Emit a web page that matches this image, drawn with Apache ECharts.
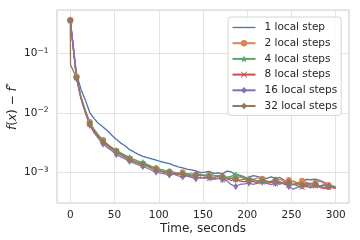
<!DOCTYPE html>
<html><head><meta charset="utf-8">
<script src="https://cdn.jsdelivr.net/npm/echarts@6/dist/echarts.min.js"></script>
<style>html,body{margin:0;padding:0;background:#fff}#c{width:360px;height:240px}</style>
</head><body><div id="c"></div>
<script>
const times = [0, 0.3, 7, 12, 17, 22, 27, 32, 37, 42, 47, 52, 57, 62, 67, 72, 77, 82, 87, 92, 97, 102, 107, 112, 117, 122, 127, 132, 137, 142, 147, 152, 157, 162, 167, 172, 177, 182, 187, 192, 197, 202, 207, 212, 217, 222, 227, 232, 237, 242, 247, 252, 257, 262, 267, 272, 277, 282, 287, 292, 297, 300];
const seriesNames = ['1 local step', '2 local steps', '4 local steps', '8 local steps', '16 local steps', '32 local steps'];
const step1 = [0.36, null, 0.046, 0.025, 0.0165, 0.0101, 0.0080, 0.0066, 0.0058, 0.0050, 0.0042, 0.0036, 0.0031, 0.0028, 0.0024, 0.0022, 0.0020, 0.00185, 0.00176, 0.00168, 0.0016, 0.00152, 0.00146, 0.0014, 0.00131, 0.00124, 0.00119, 0.00113, 0.0011, 0.00106, 0.00099, 0.00101, 0.00104, 0.00096, 0.00098, 0.00094, 0.00105, 0.00102, 0.0009, 0.00086, 0.0008, 0.00083, 0.00088, 0.00085, 0.0008, 0.00079, 0.00084, 0.00079, 0.00082, 0.00073, 0.0007, 0.00071, 0.00066, 0.00068, 0.00076, 0.00075, 0.00077, 0.00073, 0.00068, 0.00063, 0.00058, 0.00055];
const step2 = [0.36, null, 0.041, 0.019, 0.0112, 0.0070, 0.0053, 0.0042, 0.0035, 0.0030, 0.0026, 0.0023, 0.00205, 0.00188, 0.0017, 0.00158, 0.00149, 0.0014, 0.00131, 0.00125, 0.00117, 0.00111, 0.00108, 0.00103, 0.00101, 0.00097, 0.001, 0.00094, 0.00096, 0.00091, 0.00093, 0.00088, 0.0009, 0.00086, 0.00089, 0.00084, 0.00082, 0.00085, 0.0008, 0.00083, 0.00078, 0.00074, 0.00077, 0.00081, 0.00078, 0.00072, 0.00069, 0.00073, 0.00076, 0.00071, 0.00074, 0.0007, 0.00067, 0.00072, 0.00068, 0.00064, 0.00067, 0.00071, 0.00065, 0.00061, 0.00059, 0.00057];
const step4 = [0.36, null, 0.040, 0.0185, 0.0108, 0.0068, 0.0051, 0.0041, 0.0034, 0.0029, 0.0026, 0.00232, 0.00212, 0.00194, 0.00178, 0.00165, 0.00155, 0.00146, 0.00136, 0.00126, 0.00118, 0.00112, 0.00106, 0.00103, 0.00099, 0.00096, 0.00092, 0.00095, 0.0009, 0.00087, 0.00091, 0.00088, 0.00092, 0.0009, 0.00085, 0.00087, 0.00082, 0.00086, 0.00091, 0.0009, 0.00084, 0.00078, 0.00075, 0.00072, 0.00075, 0.00071, 0.00068, 0.0007, 0.00066, 0.00069, 0.00065, 0.00062, 0.00064, 0.00061, 0.00063, 0.00066, 0.00062, 0.00059, 0.00061, 0.00057, 0.00058, 0.00056];
const step8 = [0.36, null, 0.039, 0.0178, 0.0103, 0.0065, 0.0049, 0.0040, 0.0033, 0.0029, 0.0025, 0.00225, 0.002, 0.0018, 0.00165, 0.00153, 0.00143, 0.00133, 0.00126, 0.00117, 0.0011, 0.00104, 0.001, 0.00096, 0.00092, 0.00094, 0.00089, 0.00086, 0.00083, 0.00085, 0.0008, 0.00083, 0.00079, 0.00076, 0.00079, 0.00075, 0.00078, 0.00073, 0.00076, 0.00071, 0.00069, 0.00073, 0.0007, 0.00066, 0.00069, 0.00065, 0.00068, 0.00064, 0.00067, 0.00063, 0.0006, 0.00063, 0.00059, 0.00056, 0.00058, 0.00055, 0.00059, 0.00056, 0.00053, 0.00057, 0.00055, 0.00054];
const step16 = [0.36, null, 0.038, 0.0175, 0.0100, 0.0062, 0.0046, 0.0037, 0.0030, 0.0026, 0.0023, 0.0020, 0.00182, 0.00168, 0.00153, 0.00143, 0.00133, 0.00125, 0.00117, 0.00109, 0.00101, 0.00097, 0.00094, 0.0009, 0.00093, 0.00087, 0.00084, 0.00088, 0.00082, 0.00078, 0.00083, 0.00079, 0.00082, 0.00077, 0.0008, 0.00076, 0.00072, 0.00062, 0.00058, 0.00063, 0.00064, 0.00066, 0.00063, 0.00066, 0.00069, 0.00065, 0.00062, 0.00066, 0.00063, 0.00067, 0.00058, 0.00052, 0.00056, 0.00059, 0.00061, 0.00058, 0.00062, 0.00059, 0.00056, 0.00058, 0.00057, 0.00055];
const step32 = [0.36, 0.064, 0.039, 0.018, 0.0104, 0.0064, 0.0048, 0.0039, 0.0032, 0.0028, 0.00245, 0.0022, 0.00196, 0.00178, 0.00161, 0.00152, 0.00142, 0.00134, 0.00128, 0.00119, 0.00108, 0.00106, 0.00101, 0.00098, 0.00099, 0.00093, 0.00095, 0.00091, 0.00087, 0.00092, 0.00088, 0.0009, 0.00084, 0.00081, 0.00086, 0.00083, 0.00078, 0.0008, 0.00076, 0.00074, 0.00077, 0.00072, 0.00075, 0.0007, 0.00073, 0.00068, 0.00071, 0.00074, 0.00069, 0.00066, 0.00068, 0.00063, 0.00065, 0.00062, 0.00066, 0.00061, 0.00063, 0.00059, 0.00062, 0.00058, 0.00056, 0.00055];
const xTicks = [0, 50, 100, 150, 200, 250, 300];

const allValues = [step1, step2, step4, step8, step16, step32];
const ff = 'DejaVu Sans';
const txt = '#262626';
const colors = ['#4C72B0', '#DD8452', '#55A868', '#C44E52', '#8172B3', '#937860'];
const STAR = 'path://M0,-10L2.94,-4.05L9.51,-3.09L4.76,1.55L5.88,8.09L0,5L-5.88,8.09L-4.76,1.55L-9.51,-3.09L-2.94,-4.05Z';
const XMARK = 'path://M0,1L1,0L5,4L9,0L10,1L6,5L10,9L9,10L5,6L1,10L0,9L4,5Z';
const LINEICON = 'path://M0,0H23V1.3H0Z';
const symbols = ['none', 'circle', STAR, XMARK, 'diamond', 'diamond'];
const sizes = [0, 6, 7, 5.5, [4.5, 7.5], 7];

function isMark(i) { return i === 0 || (i >= 2 && (i - 2) % 3 === 0); }
function build(vals) {
  const out = [];
  vals.forEach((v, i) => {
    if (v === null) return;
    const item = { value: [times[i], v] };
    if (!isMark(i)) item.symbol = 'none';
    out.push(item);
  });
  return out;
}

const series = allValues.map((vals, k) => ({
  name: seriesNames[k],
  type: 'line',
  data: build(vals),
  symbol: symbols[k],
  symbolSize: sizes[k],
  showSymbol: k !== 0,
  showAllSymbol: true,
  connectNulls: true,
  animation: false,
  lineStyle: { color: colors[k], width: 1.3 },
  itemStyle: { color: colors[k], borderWidth: 0 },
  emphasis: { disabled: true }
}));

const legendData = seriesNames.map((n, k) => (k === 0 ? { name: n, icon: LINEICON } : { name: n }));

const chart = echarts.init(document.getElementById('c'), null, { renderer: 'canvas' });
chart.setOption({
  animation: false,
  backgroundColor: '#fff',
  color: colors,
  grid: { left: 57, right: 11, top: 10, bottom: 37, show: true, borderColor: '#d0d0d0', borderWidth: 1.2, backgroundColor: '#fff', containLabel: false, outerBoundsMode: 'none' },
  xAxis: {
    type: 'value', min: -15, max: 315, splitNumber: 6,
    axisLine: { show: false }, axisTick: { show: false },
    axisLabel: {
      fontFamily: ff, fontSize: 10.5, color: txt, margin: 7,
      formatter: v => (xTicks.indexOf(v) >= 0 ? String(v) : '')
    },
    splitLine: { lineStyle: { color: '#e3e3e3', width: 1 } },
    name: 'Time, seconds', nameLocation: 'middle', nameGap: 20, nameMoveOverlap: false,
    nameTextStyle: { fontFamily: ff, fontSize: 12, color: txt }
  },
  yAxis: {
    type: 'log', logBase: 10, min: 3.05e-4, max: 0.535,
    axisLine: { show: false }, axisTick: { show: false },
    minorTick: { show: false }, minorSplitLine: { show: false },
    axisLabel: {
      margin: 8.5,
      formatter: v => {
        const l = Math.log10(v); const e = Math.round(l);
        if (Math.abs(l - e) > 1e-6) return '';
        return '{b|10}{s|' + (e < 0 ? '\u2212' : '') + Math.abs(e) + '}';
      },
      rich: {
        b: { fontFamily: ff, fontSize: 10.5, color: txt },
        s: { fontFamily: ff, fontSize: 7.5, color: txt, verticalAlign: 'top', padding: [0, 0, 5, 0] }
      }
    },
    splitLine: { lineStyle: { color: '#e3e3e3', width: 1 } },
    name: '{i|f}{n|(}{i|x}{n|) \u2212 }{i|f}{u|*}', nameLocation: 'middle', nameGap: 37, nameMoveOverlap: false,
    nameTextStyle: {
      fontFamily: ff, fontSize: 12, color: txt,
      rich: {
        i: { fontFamily: ff, fontSize: 12, fontStyle: 'italic', color: txt },
        n: { fontFamily: ff, fontSize: 12, color: txt },
        u: { fontFamily: ff, fontSize: 8.5, fontStyle: 'italic', color: txt, verticalAlign: 'top', padding: [0, 0, 6, 0] }
      }
    }
  },
  legend: {
    orient: 'vertical', left: 228, top: 17,
    itemWidth: 23, itemHeight: 8, itemGap: 4.7,
    padding: [5, 4, 4, 3.5],
    backgroundColor: 'rgba(255,255,255,0.85)', borderColor: '#d5d5d5', borderWidth: 1, borderRadius: 3,
    textStyle: { fontFamily: ff, fontSize: 10.5, color: txt, padding: [0, 0, 0, 4] },
    data: legendData
  },
  series: series
});
</script></body></html>
